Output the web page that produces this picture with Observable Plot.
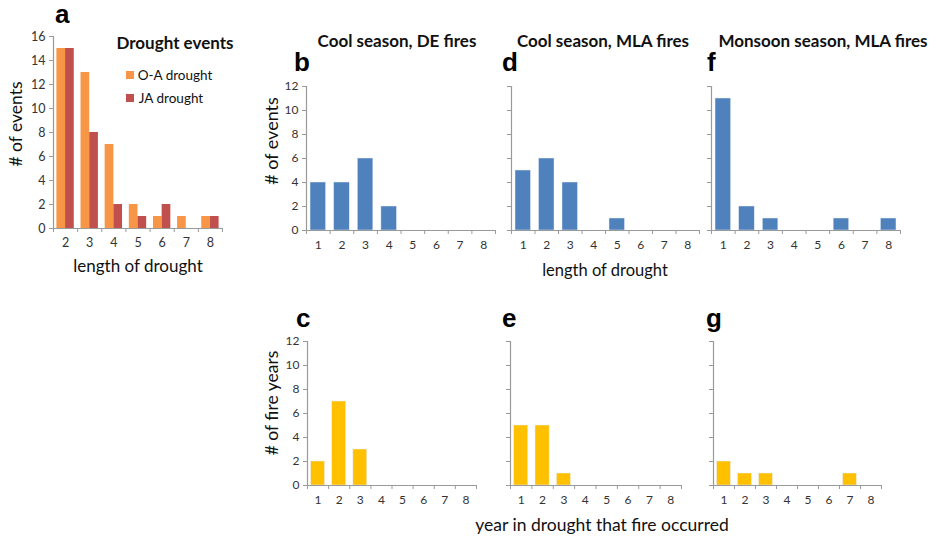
<!DOCTYPE html>
<html>
<head>
<meta charset="utf-8">
<script src="https://cdn.jsdelivr.net/npm/d3@7"></script>
<script src="https://cdn.jsdelivr.net/npm/@observablehq/plot@0.6"></script>
<style>
  html, body { margin: 0; padding: 0; background: #fff; }
  #root { position: relative; width: 937px; height: 537px; overflow: hidden; font-family: Lato, "Open Sans", sans-serif; }
  .lbl { position: absolute; white-space: nowrap; color: #111; transform: translate(-50%, -50%); }
  .rot { transform: translate(-50%, -50%) rotate(-90deg); }
  .letter { position: absolute; font-family: "Liberation Sans", Arial, sans-serif; font-weight: bold; font-size: 26px; color: #000; line-height: 1; }
  .title { font-weight: bold; }
  .sw { position: absolute; width: 8px; height: 8px; }
  svg { position: absolute; overflow: visible; }
</style>
</head>
<body>
<div id="root"></div>
<script>
// ---- data ----
const droughtLengthsA = [2, 3, 4, 5, 6, 7, 8];
const oaDrought = [15, 13, 7, 2, 1, 1, 1];
const jaDrought = [15, 8, 2, 1, 2, 0, 1];

const categories = [1, 2, 3, 4, 5, 6, 7, 8];
const coolDEEvents = [4, 4, 6, 2, 0, 0, 0, 0];
const coolMLAEvents = [5, 6, 4, 0, 1, 0, 0, 0];
const monsoonMLAEvents = [11, 2, 1, 0, 0, 1, 0, 1];
const coolDEFireYears = [2, 7, 3, 0, 0, 0, 0, 0];
const coolMLAFireYears = [5, 5, 1, 0, 0, 0, 0, 0];
const monsoonMLAFireYears = [2, 1, 1, 0, 0, 0, 1, 0];

const yTicksA = [0, 2, 4, 6, 8, 10, 12, 14, 16];
const yTicks = [0, 2, 4, 6, 8, 10, 12];

const colors = { oa: "#F79646", ja: "#C0504D", blue: "#4F81BD", yellow: "#FFC000" };
const axisGray = "#9a9a9a";
const textGray = "#333";

const root = document.getElementById("root");

function addLabel(text, x, y, cls, size, rotate) {
  const d = document.createElement("div");
  d.className = "lbl" + (cls ? " " + cls : "") + (rotate ? " rot" : "");
  d.textContent = text;
  d.style.left = x + "px";
  d.style.top = y + "px";
  if (size) d.style.fontSize = size + "px";
  root.appendChild(d);
}
function addLetter(t, x, y) {
  const d = document.createElement("div");
  d.className = "letter";
  d.textContent = t;
  d.style.left = x + "px";
  d.style.top = y + "px";
  root.appendChild(d);
}

function panel({x0, x1, y0, y1, xdom, ydom, yt, showY, marks, fontSize}) {
  const ml = 40, mr = 10, mt = 10, mb = 30;
  const cats = d3.range(Math.ceil(xdom[0]), xdom[1]);
  const bounds = d3.range(xdom[0], xdom[1] + 0.001, 1);
  const fs = fontSize || 12;
  const svg = Plot.plot({
    width: (x1 - x0) + ml + mr,
    height: (y1 - y0) + mt + mb,
    marginLeft: ml, marginRight: mr, marginTop: mt, marginBottom: mb,
    x: { domain: xdom },
    y: { domain: ydom },
    style: { fontFamily: "Lato, 'Open Sans', sans-serif", fontSize: fs + "px", background: "transparent" },
    marks: [
      ...marks,
      Plot.ruleX([xdom[0]], { stroke: axisGray, strokeWidth: 1.2 }),
      Plot.ruleY([ydom[0]], { stroke: axisGray, strokeWidth: 1.2 }),
      Plot.axisY({ ticks: yt, tickSize: 4, tickPadding: 4, stroke: axisGray, fill: textGray,
                   tickFormat: showY ? (d => d) : (() => ""), label: null }),
      Plot.axisX({ ticks: bounds, tickSize: 4, stroke: axisGray, tickFormat: () => "", label: null }),
      Plot.axisX({ ticks: cats, tickSize: 0, tickPadding: 10, fill: textGray, label: null, tickFormat: d => d })
    ]
  });
  svg.style.left = (x0 - ml) + "px";
  svg.style.top = (y0 - mt) + "px";
  root.appendChild(svg);
}

function singleBars(values, color) {
  const data = categories.map((c, i) => ({ c, v: values[i] })).filter(d => d.v > 0);
  return [Plot.rectY(data, { x1: d => d.c - 0.33, x2: d => d.c + 0.33, y1: 0, y2: "v", fill: color, stroke: "#e8eef8", strokeWidth: 0.5 })];
}

// ---- panel a ----
const aData = droughtLengthsA.map((c, i) => ({ c, oa: oaDrought[i], ja: jaDrought[i] }));
panel({
  x0: 53, x1: 222, y0: 36, y1: 228, xdom: [1.5, 8.5], ydom: [0, 16], yt: yTicksA, showY: true, fontSize: 12.5,
  marks: [
    Plot.rectY(aData.filter(d => d.oa > 0), { x1: d => d.c - 0.36, x2: d => d.c, y1: 0, y2: "oa", fill: colors.oa }),
    Plot.rectY(aData.filter(d => d.ja > 0), { x1: d => d.c, x2: d => d.c + 0.36, y1: 0, y2: "ja", fill: colors.ja })
  ]
});

// ---- top row ----
panel({ x0: 306, x1: 495, y0: 86, y1: 230, xdom: [0.5, 8.5], ydom: [0, 12], yt: yTicks, showY: true, marks: singleBars(coolDEEvents, colors.blue) });
panel({ x0: 511, x1: 699, y0: 86, y1: 230, xdom: [0.5, 8.5], ydom: [0, 12], yt: yTicks, showY: false, marks: singleBars(coolMLAEvents, colors.blue) });
panel({ x0: 711, x1: 900, y0: 86, y1: 230, xdom: [0.5, 8.5], ydom: [0, 12], yt: yTicks, showY: false, marks: singleBars(monsoonMLAEvents, colors.blue) });

// ---- bottom row ----
panel({ x0: 307, x1: 476, y0: 341, y1: 485, xdom: [0.5, 8.5], ydom: [0, 12], yt: yTicks, showY: true, marks: singleBars(coolDEFireYears, colors.yellow) });
panel({ x0: 510, x1: 681, y0: 341, y1: 485, xdom: [0.5, 8.5], ydom: [0, 12], yt: yTicks, showY: false, marks: singleBars(coolMLAFireYears, colors.yellow) });
panel({ x0: 713, x1: 881, y0: 341, y1: 485, xdom: [0.5, 8.5], ydom: [0, 12], yt: yTicks, showY: false, marks: singleBars(monsoonMLAFireYears, colors.yellow) });

// ---- texts ----
addLetter("a", 55, 1);
addLetter("b", 294, 49);
addLetter("d", 502, 49);
addLetter("f", 707, 49);
addLetter("c", 296, 305);
addLetter("e", 502, 305);
addLetter("g", 706, 305);

addLabel("Drought events", 175, 42, "title", 17);
addLabel("Cool season, DE fires", 397, 40, "title", 17);
addLabel("Cool season, MLA fires", 603, 40, "title", 17);
addLabel("Monsoon season, MLA fires", 823, 40, "title", 17);

// legend
const sw1 = document.createElement("div"); sw1.className = "sw"; sw1.style.left = "126px"; sw1.style.top = "71px"; sw1.style.background = colors.oa; root.appendChild(sw1);
const sw2 = document.createElement("div"); sw2.className = "sw"; sw2.style.left = "126px"; sw2.style.top = "94px"; sw2.style.background = colors.ja; root.appendChild(sw2);
addLabel("O-A drought", 175, 75, null, 13.5);
addLabel("JA drought", 171, 98, null, 13.5);

addLabel("# of events", 15, 124, null, 17.5, true);
addLabel("length of drought", 138, 265, null, 17);
addLabel("# of events", 271, 141, null, 18, true);
addLabel("length of drought", 605, 270, null, 16.5);
addLabel("# of fire years", 271, 403, null, 17.5, true);
addLabel("year in drought that fire occurred", 602, 524, null, 17.5);
</script>
</body>
</html>
